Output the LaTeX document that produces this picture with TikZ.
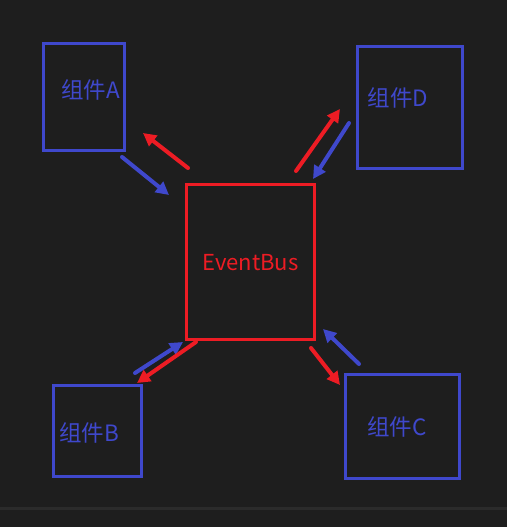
\documentclass[tikz,border=0pt]{standalone}
\usepackage{fontspec}
\setmainfont{Noto Sans CJK SC}
\usetikzlibrary{arrows.meta,positioning}

\definecolor{bg}{HTML}{1E1E1E}
\definecolor{rule}{HTML}{2B2B2B}
\definecolor{compblue}{HTML}{3F48CC}
\definecolor{busred}{HTML}{ED1C24}

\tikzset{
  comp/.style={draw=compblue,line width=3pt,rectangle,inner sep=0pt},
  complabel/.style={text=compblue,font=\fontsize{22.5}{26}\selectfont,inner sep=0pt},
  bus/.style={draw=busred,line width=3pt,rectangle,inner sep=0pt},
  toBus/.style={draw=compblue,line width=4pt,line cap=round,-{Triangle[length=13pt,width=13pt]}},
  fromBus/.style={draw=busred,line width=4pt,line cap=round,-{Triangle[length=13pt,width=13pt]}}
}

\begin{document}
\begin{tikzpicture}[x=1pt,y=-1pt]

% background
\fill[bg] (0,0) rectangle (507,527);
\useasboundingbox (0,0) rectangle (507,527);
\fill[rule] (0,507) rectangle (507,509.5);

% the bus in the middle
\node[bus,minimum width=128pt,minimum height=155pt] (bus) at (250.5,262) {};
\node[text=busred,font=\fontsize{22}{26}\selectfont,inner sep=0pt] (buslabel) at (250.5,263) {EventBus};

% components
\node[comp,minimum width=81pt,minimum height=107pt] (A) at (84,97) {};
\node[complabel] (Alabel) at (90.5,90) {组件A};

\node[comp,minimum width=105pt,minimum height=122pt] (D) at (410,107.5) {};
\node[complabel] (Dlabel) at (398,98) {组件D};

\node[comp,minimum width=88pt,minimum height=91pt] (B) at (97.5,431) {};
\node[complabel] (Blabel) at (89,433) {组件B};

\node[comp,minimum width=114pt,minimum height=104pt] (C) at (402.5,426.5) {};
\node[complabel] (Clabel) at (397,427) {组件C};

% arrow ends
\coordinate (a1) at (122,157);  \coordinate (a2) at (169,195);
\coordinate (a3) at (188,168);  \coordinate (a4) at (143,133);
\coordinate (d1) at (296,171);  \coordinate (d2) at (340,109);
\coordinate (d3) at (349,123);  \coordinate (d4) at (313,179);
\coordinate (b1) at (135,373);  \coordinate (b2) at (183,342);
\coordinate (b3) at (196,342);  \coordinate (b4) at (137,383);
\coordinate (c1) at (311,348);  \coordinate (c2) at (340,385);
\coordinate (c3) at (359,364);  \coordinate (c4) at (323,329);

% messages to and from the bus
\draw[toBus] (a1) -- (a2);
\draw[fromBus] (a3) -- (a4);
\draw[fromBus] (d1) -- (d2);
\draw[toBus] (d3) -- (d4);
\draw[toBus] (b1) -- (b2);
\draw[fromBus] (b3) -- (b4);
\draw[fromBus] (c1) -- (c2);
\draw[toBus] (c3) -- (c4);

\end{tikzpicture}
\end{document}
